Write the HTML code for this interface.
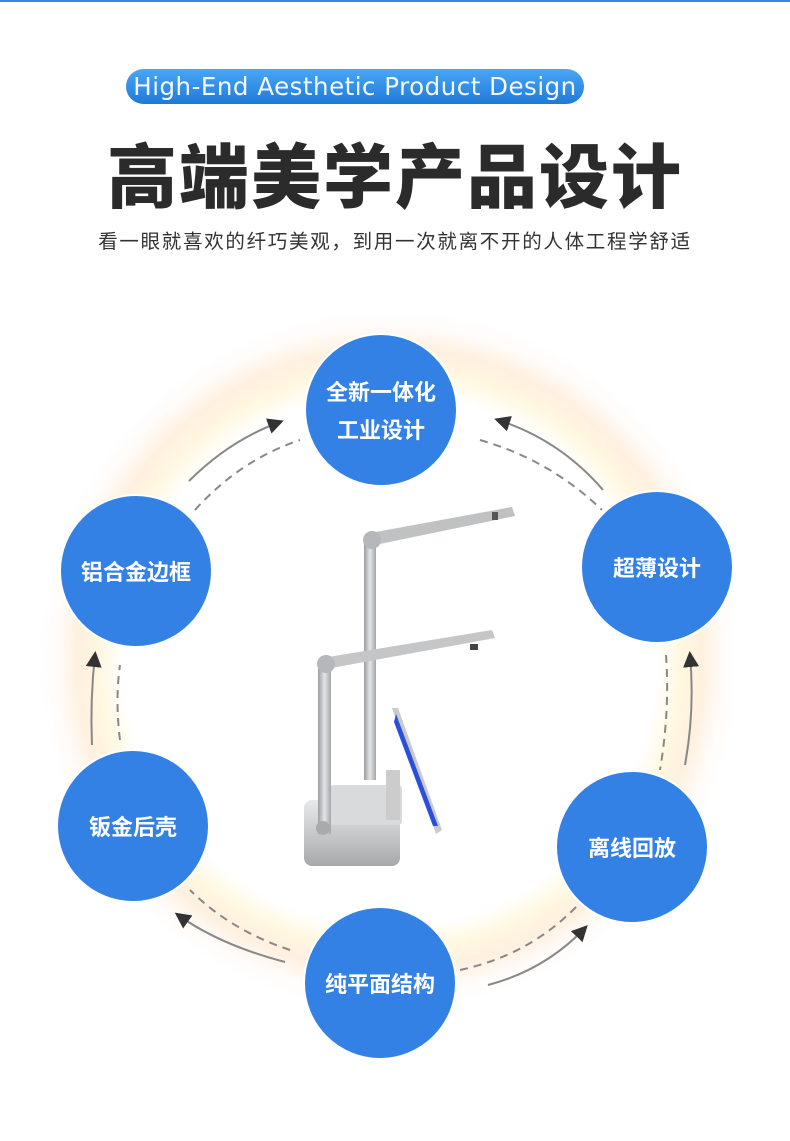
<!DOCTYPE html>
<html><head><meta charset="utf-8"><style>
body{margin:0;width:790px;height:1141px;background:#fff;position:relative;overflow:hidden;font-family:"Liberation Sans","Noto Sans CJK SC",sans-serif}
.topline{position:absolute;left:0;top:0;width:790px;height:2px;background:#3a86e0}
.pill{position:absolute;left:126px;top:69px;width:458px;height:35px;border-radius:18px;background:linear-gradient(#4aa6f5,#1e7ad8);color:#f4f8ff;line-height:35px;text-align:center;letter-spacing:0.5px;font-family:"DejaVu Sans",sans-serif;font-size:24.5px}
.title{position:absolute;left:0;width:790px;top:128px;text-align:center;font-size:70px;font-weight:900;color:#2b2b2b;letter-spacing:2px;line-height:90px;font-family:"Noto Sans CJK SC",sans-serif}
.sub{position:absolute;left:0;width:790px;top:226px;text-align:center;font-size:19.5px;letter-spacing:1.7px;color:#333;line-height:28px;font-family:"Noto Sans CJK SC",sans-serif}
.glow{position:absolute;left:40px;top:310px;width:700px;height:700px;border-radius:50%;background:radial-gradient(circle closest-side,rgba(255,255,255,0) 0%,rgba(255,255,255,0) 76%,rgba(255,242,200,.55) 83%,rgba(255,222,185,.45) 89%,rgba(255,235,220,.2) 95%,rgba(255,255,255,0) 100%)}
.c{position:absolute;width:150px;height:150px;border-radius:50%;background:#3381e4;border:2px solid #fff;color:#fff;font-weight:bold;font-size:22px;display:flex;align-items:center;justify-content:center;text-align:center;line-height:38px;font-family:"Noto Sans CJK SC",sans-serif;margin:-77px 0 0 -77px}
</style></head><body>
<div class="topline"></div>
<div class="pill">High-End Aesthetic Product Design</div>
<div class="title">高端美学产品设计</div>
<div class="sub">看一眼就喜欢的纤巧美观，到用一次就离不开的人体工程学舒适</div>
<div class="glow"></div>
<svg width="790" height="1141" style="position:absolute;left:0;top:0">
<defs><marker id="a" markerWidth="8" markerHeight="8" refX="6" refY="4" orient="auto"><path d="M0,0 L8,4 L0,8 z" fill="#333"/></marker>
<linearGradient id="m" x1="0" x2="1"><stop offset="0" stop-color="#9a9c9f"/><stop offset=".5" stop-color="#e4e5e7"/><stop offset="1" stop-color="#a3a5a8"/></linearGradient>
<linearGradient id="mv" x1="0" y1="0" x2="0" y2="1"><stop offset="0" stop-color="#e8e9ea"/><stop offset="1" stop-color="#a7a9ac"/></linearGradient></defs>
<g fill="none" stroke="#888" stroke-width="2">
<path d="M195,510 Q240,460 300,440" stroke-dasharray="8,6"/>
<path d="M189,481 Q230,440 280,422" marker-end="url(#a)"/>
<path d="M480,440 Q550,460 602,510" stroke-dasharray="8,6"/>
<path d="M603,490 Q560,440 498,420" marker-end="url(#a)"/>
<path d="M666,655 Q670,710 660,770" stroke-dasharray="8,6"/>
<path d="M685,765 Q695,710 690,655" marker-end="url(#a)"/>
<path d="M460,970 Q530,955 578,905" stroke-dasharray="8,6"/>
<path d="M488,985 Q545,970 585,928" marker-end="url(#a)"/>
<path d="M290,950 Q230,930 190,890" stroke-dasharray="8,6"/>
<path d="M285,962 Q220,945 178,915" marker-end="url(#a)"/>
<path d="M120,740 Q115,700 120,665" stroke-dasharray="8,6"/>
<path d="M92,745 Q90,700 95,655" marker-end="url(#a)"/>
</g>
<g>
<rect x="304" y="800" width="96" height="66" rx="8" fill="url(#mv)"/>
<rect x="330" y="785" width="72" height="40" rx="4" fill="#d9dadc"/>
<rect x="318" y="662" width="13" height="172" fill="url(#m)"/>
<rect x="364" y="540" width="12" height="240" fill="url(#m)"/>
<path d="M365,534 L512,507 L515,516 L370,546 z" fill="#bfc1c3"/>
<circle cx="372" cy="540" r="9" fill="#b5b7ba"/>
<path d="M322,658 L492,630 L495,638 L326,669 z" fill="#c4c6c8"/>
<circle cx="326" cy="664" r="9" fill="#b5b7ba"/>
<rect x="492" y="512" width="6" height="8" fill="#555"/>
<rect x="470" y="644" width="8" height="6" fill="#444"/>
<rect x="386" y="770" width="14" height="50" fill="#ccc"/>
<path d="M392,708 L398,708 L442,830 L436,834 z" fill="#c9cacb"/>
<path d="M396,714 L438,826 L433,826 L394,722 z" fill="#2a4fd8"/>
<circle cx="323" cy="828" r="7" fill="#aaa"/>
</g>
</svg>
<div class="c" style="left:381px;top:410px">全新一体化<br>工业设计</div>
<div class="c" style="left:657px;top:567px">超薄设计</div>
<div class="c" style="left:136px;top:571px">铝合金边框</div>
<div class="c" style="left:133px;top:826px">钣金后壳</div>
<div class="c" style="left:632px;top:847px">离线回放</div>
<div class="c" style="left:380px;top:983px">纯平面结构</div>
</body></html>
